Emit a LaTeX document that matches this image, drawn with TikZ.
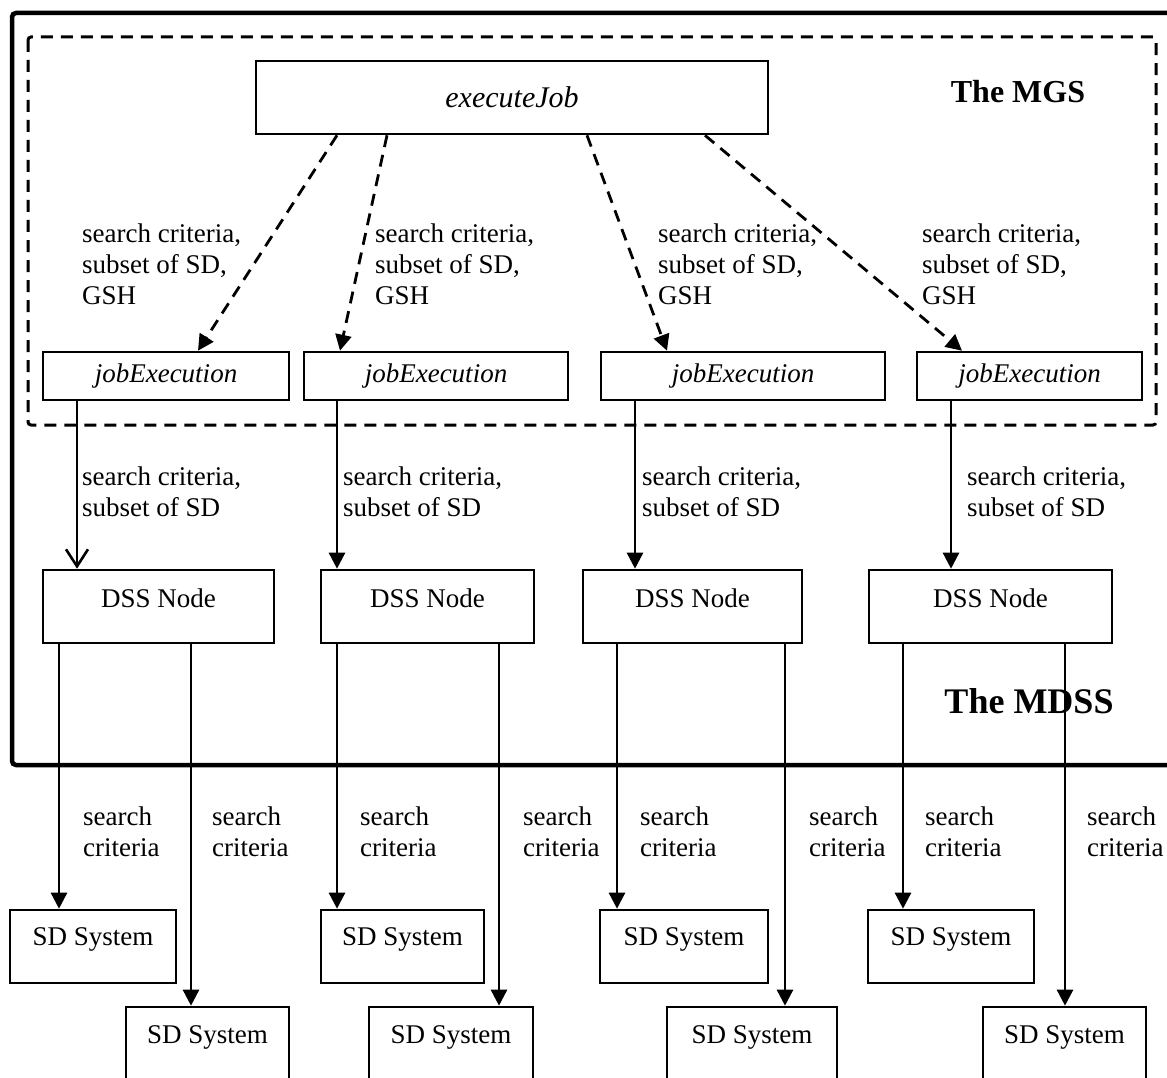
\documentclass[tikz,border=0pt]{standalone}
\usepackage{fontspec}
\setmainfont{Liberation Serif}
\usetikzlibrary{arrows.meta}

\begin{document}
\begin{tikzpicture}[x=1pt,y=-1pt,
  box/.style={draw, line width=2.6pt, inner sep=0pt},
  lbl/.style={anchor=north west, inner sep=0pt, align=left, font=\fontsize{27}{31}\selectfont},
  txt/.style={anchor=base, inner sep=0pt, font=\fontsize{27}{31}\selectfont},
  itxt/.style={inner sep=0pt, font=\fontsize{27}{31}\selectfont\itshape},
  title/.style={anchor=base, inner sep=0pt, font=\bfseries},
  arr/.style={line width=2.6pt, -{Triangle[length=16pt,width=16pt]}},
  openarr/.style={line width=2.6pt, -{Straight Barb[length=17pt,width=22pt,line width=2.6pt]}},
  darr/.style={line width=2.8pt, dash pattern=on 12pt off 8pt, -{Triangle[length=16pt,width=16pt]}},
  frame/.style={line width=4.5pt, rounded corners=4pt},
  dashbox/.style={line width=3pt, dash pattern=on 12pt off 8pt, rounded corners=3pt},
]
\useasboundingbox (0,0) rectangle (1167,1078);
\clip (0,0) rectangle (1167,1078);

% outer MDSS frame and inner MGS frame
\draw[frame] (1190,13) -- (12,13) -- (12,765) -- (1190,765);
\draw[dashbox] (28,37) rectangle (1156,425);

% titles
\node[title, font=\fontsize{32}{36}\selectfont\bfseries] (mgs) at (1018,103) {The MGS};
\node[title, font=\fontsize{36}{40}\selectfont\bfseries] (mdss) at (1029,713) {The MDSS};

% MGS job
\node[box, minimum width=512pt, minimum height=73pt] (ej) at (512,97.5) {};
\node[itxt, font=\fontsize{30}{34}\selectfont\itshape] (ejt) at (512,97.5) {executeJob};

% job executions
\node[box, itxt, minimum width=246pt, minimum height=48pt] (je1) at (166,376) {jobExecution};
\node[box, itxt, minimum width=264pt, minimum height=48pt] (je2) at (436,376) {jobExecution};
\node[box, itxt, minimum width=284pt, minimum height=48pt] (je3) at (743,376) {jobExecution};
\node[box, itxt, minimum width=225pt, minimum height=48pt] (je4) at (1029.5,376) {jobExecution};

% DSS nodes
\node[box, minimum width=231pt, minimum height=73pt] (dss1) at (158.5,606.5) {};
\node[box, minimum width=213pt, minimum height=73pt] (dss2) at (427.5,606.5) {};
\node[box, minimum width=219pt, minimum height=73pt] (dss3) at (692.5,606.5) {};
\node[box, minimum width=243pt, minimum height=73pt] (dss4) at (990.5,606.5) {};
\node[txt] (dss1t) at (158.5,607) {DSS Node};
\node[txt] (dss2t) at (427.5,607) {DSS Node};
\node[txt] (dss3t) at (692.5,607) {DSS Node};
\node[txt] (dss4t) at (990.5,607) {DSS Node};

% SD systems, upper row
\node[box, minimum width=166pt, minimum height=73pt] (sd1) at (93,946.5) {};
\node[box, minimum width=163pt, minimum height=73pt] (sd3) at (402.5,946.5) {};
\node[box, minimum width=168pt, minimum height=73pt] (sd5) at (684,946.5) {};
\node[box, minimum width=166pt, minimum height=73pt] (sd7) at (951,946.5) {};
\node[txt] (sd1t) at (93,945) {SD System};
\node[txt] (sd3t) at (402.5,945) {SD System};
\node[txt] (sd5t) at (684,945) {SD System};
\node[txt] (sd7t) at (951,945) {SD System};

% SD systems, lower row
\node[box, minimum width=163pt, minimum height=100pt] (sd2) at (207.5,1057) {};
\node[box, minimum width=164pt, minimum height=100pt] (sd4) at (451,1057) {};
\node[box, minimum width=170pt, minimum height=100pt] (sd6) at (752,1057) {};
\node[box, minimum width=163pt, minimum height=100pt] (sd8) at (1064.5,1057) {};
\node[txt] (sd2t) at (207.5,1043) {SD System};
\node[txt] (sd4t) at (451,1043) {SD System};
\node[txt] (sd6t) at (752,1043) {SD System};
\node[txt] (sd8t) at (1064.5,1043) {SD System};

% executeJob -> jobExecution
\draw[darr] (ej.south -| 337,0) -- (je1.north -| 198,0);
\draw[darr] (ej.south -| 387,0) -- (je2.north -| 340,0);
\draw[darr] (ej.south -| 587,0) -- (je3.north -| 667,0);
\draw[darr] (ej.south -| 705,0) -- (je4.north -| 962,0);

\node[lbl] (l1) at (82,223.6) {search criteria,\\subset of SD,\\GSH};
\node[lbl] (l2) at (375,223.6) {search criteria,\\subset of SD,\\GSH};
\node[lbl] (l3) at (658,223.6) {search criteria,\\subset of SD,\\GSH};
\node[lbl] (l4) at (922,223.6) {search criteria,\\subset of SD,\\GSH};

% jobExecution -> DSS Node
\draw[openarr] (je1.south -| 77,0) -- (dss1.north -| 77,0);
\draw[arr] (je2.south -| 337,0) -- (dss2.north -| 337,0);
\draw[arr] (je3.south -| 635,0) -- (dss3.north -| 635,0);
\draw[arr] (je4.south -| 951,0) -- (dss4.north -| 951,0);

\node[lbl] (m1) at (82,466.6) {search criteria,\\subset of SD};
\node[lbl] (m2) at (343,466.6) {search criteria,\\subset of SD};
\node[lbl] (m3) at (642,466.6) {search criteria,\\subset of SD};
\node[lbl] (m4) at (967,466.6) {search criteria,\\subset of SD};

% DSS Node -> SD System
\draw[arr] (dss1.south -| 59,0) -- (sd1.north -| 59,0);
\draw[arr] (dss1.south -| 191,0) -- (sd2.north -| 191,0);
\draw[arr] (dss2.south -| 337,0) -- (sd3.north -| 337,0);
\draw[arr] (dss2.south -| 499,0) -- (sd4.north -| 499,0);
\draw[arr] (dss3.south -| 617,0) -- (sd5.north -| 617,0);
\draw[arr] (dss3.south -| 785,0) -- (sd6.north -| 785,0);
\draw[arr] (dss4.south -| 903,0) -- (sd7.north -| 903,0);
\draw[arr] (dss4.south -| 1065,0) -- (sd8.north -| 1065,0);

\node[lbl] (b1) at (83,806.6) {search\\criteria};
\node[lbl] (b2) at (212,806.6) {search\\criteria};
\node[lbl] (b3) at (360,806.6) {search\\criteria};
\node[lbl] (b4) at (523,806.6) {search\\criteria};
\node[lbl] (b5) at (640,806.6) {search\\criteria};
\node[lbl] (b6) at (809,806.6) {search\\criteria};
\node[lbl] (b7) at (925,806.6) {search\\criteria};
\node[lbl] (b8) at (1087,806.6) {search\\criteria};
\end{tikzpicture}
\end{document}
